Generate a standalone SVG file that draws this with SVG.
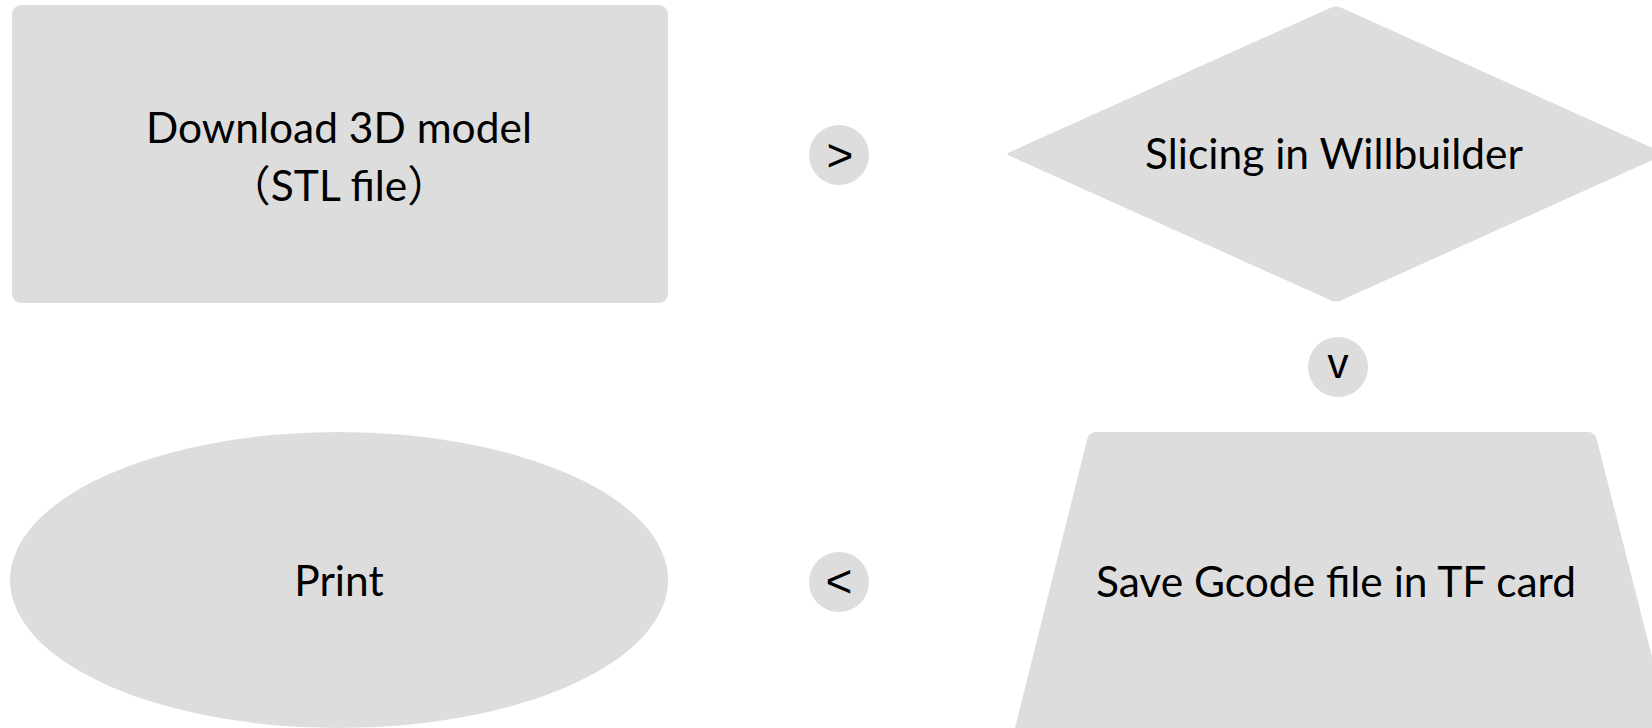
<svg xmlns="http://www.w3.org/2000/svg" width="1652" height="728" viewBox="0 0 1652 728">
<style>
.shape{fill:#dddddd;}
.lbl{font-family:Lato,"Noto Sans CJK SC",sans-serif;font-size:42.5px;fill:#000;text-anchor:middle;}
.arr{font-family:"Liberation Sans",Arial,sans-serif;font-size:46px;fill:#000;text-anchor:middle;}
</style>
<rect width="1652" height="728" fill="#ffffff"/>
<g id="node-download">
<rect class="shape" x="12" y="5" width="656" height="298" rx="9" ry="9"/>
<text class="lbl" x="339" y="143">Download 3D model</text>
<text class="lbl" x="339" y="201">（STL file）</text>
</g>
<g id="node-slicing">
<path class="shape" d="M1010 152 L1330 8 Q1336 5 1342 8 L1666 154 L1342 300 Q1336 303 1330 300 L1010 156 Q1005 154 1010 152 Z"/>
<text class="lbl" x="1334" y="169">Slicing in Willbuilder</text>
</g>
<g id="node-save">
<path class="shape" d="M1096 432 L1588 432 Q1595 432 1597 440 L1670 728 L1015 728 L1087 440 Q1089 432 1096 432 Z"/>
<text class="lbl" x="1336" y="597">Save Gcode file in TF card</text>
</g>
<g id="node-print">
<ellipse class="shape" cx="339" cy="580" rx="329" ry="148"/>
<text class="lbl" x="339" y="596">Print</text>
</g>
<g id="connectors">
<g id="conn-1"><circle class="shape" cx="839" cy="155" r="30"/><text class="arr" x="840" y="171">&gt;</text></g>
<g id="conn-2"><circle class="shape" cx="1338" cy="367" r="30"/><text class="arr" x="1338" y="378" style="font-size:42px">v</text></g>
<g id="conn-3"><circle class="shape" cx="839" cy="582" r="30"/><text class="arr" x="839" y="597">&lt;</text></g>
</g>
</svg>
